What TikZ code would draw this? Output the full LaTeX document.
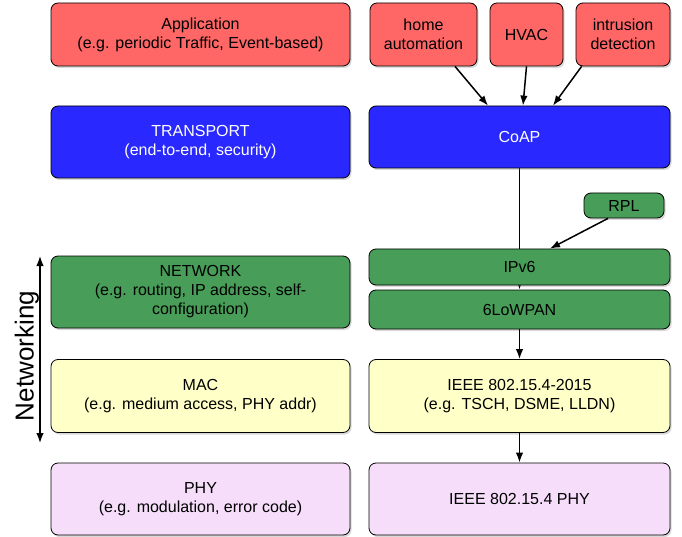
\documentclass[tikz,border=0pt]{standalone}
\usepackage{fontspec}
\setmainfont{Liberation Sans}
\usetikzlibrary{arrows.meta,shadows,backgrounds}
\definecolor{appred}{RGB}{255,102,102}
\definecolor{transblue}{RGB}{40,40,255}
\definecolor{netgreen}{RGB}{72,158,88}
\definecolor{macyellow}{RGB}{255,255,200}
\definecolor{phypink}{RGB}{246,222,250}
\begin{document}
\begin{tikzpicture}[x=1pt,y=-1pt,
    layer/.style={draw=black, line width=0.8pt, rounded corners=7pt, align=center, inner sep=0pt,
        font=\fontsize{16}{19}\selectfont,
        drop shadow={shadow xshift=1.5pt, shadow yshift=-2pt, opacity=0.3}},
    arr/.style={-{Latex[length=10pt,width=7.5pt]}, line width=1.5pt}]
    \useasboundingbox (0,0) rectangle (682,537);
    % left column: the layers
    \node[layer, fill=appred, minimum width=299pt, minimum height=63pt] (app) at (200.5,34.5) {Application\\(e.g. periodic Traffic, Event-based)};
    \node[layer, fill=transblue, text=white, minimum width=299pt, minimum height=72pt] (transport) at (200.5,142) {TRANSPORT\\(end-to-end, security)};
    \node[layer, fill=netgreen, minimum width=299pt, minimum height=72pt] (network) at (200.5,292) {NETWORK\\(e.g. routing, IP address, self-\\configuration)};
    \node[layer, fill=macyellow, minimum width=299pt, minimum height=73pt] (mac) at (200.5,396) {MAC\\(e.g. medium access, PHY addr)};
    \node[layer, fill=phypink, minimum width=299pt, minimum height=72pt] (phy) at (200.5,499) {PHY\\(e.g. modulation, error code)};
    % right column: the stack
    \node[layer, fill=appred, minimum width=107pt, minimum height=63pt] (home) at (423.5,34.5) {home\\automation};
    \node[layer, fill=appred, minimum width=73pt, minimum height=63pt] (hvac) at (526.5,34.5) {HVAC};
    \node[layer, fill=appred, minimum width=94pt, minimum height=63pt] (intrusion) at (623,34.5) {intrusion\\detection};
    \node[layer, fill=transblue, text=white, minimum width=301pt, minimum height=62pt] (coap) at (519.5,137) {CoAP};
    \node[layer, fill=netgreen, minimum width=80pt, minimum height=25pt] (rpl) at (624,205.5) {RPL};
    \node[layer, fill=netgreen, minimum width=301pt, minimum height=36pt] (ipv6) at (519.5,267) {IPv6};
    \node[layer, fill=netgreen, minimum width=301pt, minimum height=39pt] (lowpan) at (519.5,309.5) {6LoWPAN};
    \node[layer, fill=macyellow, minimum width=301pt, minimum height=73pt] (ieeemac) at (519.5,396) {IEEE 802.15.4-2015\\(e.g. TSCH, DSME, LLDN)};
    \node[layer, fill=phypink, minimum width=301pt, minimum height=72pt] (ieeephy) at (519.5,499) {IEEE 802.15.4 PHY};
    % arrows
    \draw[arr] ([xshift=31.5pt]home.south) -- ([xshift=-31.5pt]coap.north);
    \draw[arr] (hvac.south) -- ([xshift=3.5pt]coap.north);
    \draw[arr] ([xshift=6pt]intrusion.south west) -- ([xshift=33.5pt]coap.north);
    \begin{pgfonlayer}{background}
        \draw[arr] (coap.south) -- (lowpan.north);
    \end{pgfonlayer}
    \draw[arr] ([xshift=-16pt]rpl.south) -- ([xshift=30.5pt]ipv6.north);
    \draw[arr] (lowpan.south) -- (ieeemac.north);
    \draw[arr] (ieeemac.south) -- (ieeephy.north);
    % networking span
    \coordinate (nettop) at (40,256);
    \coordinate (netbot) at (40,443);
    \draw[{Latex[length=10pt,width=7.5pt]}-{Latex[length=10pt,width=7.5pt]}, line width=1.5pt] (nettop) -- (netbot);
    \node[rotate=90, font=\fontsize{26}{30}\selectfont] (netlabel) at (27,356) {Networking};
\end{tikzpicture}
\end{document}
